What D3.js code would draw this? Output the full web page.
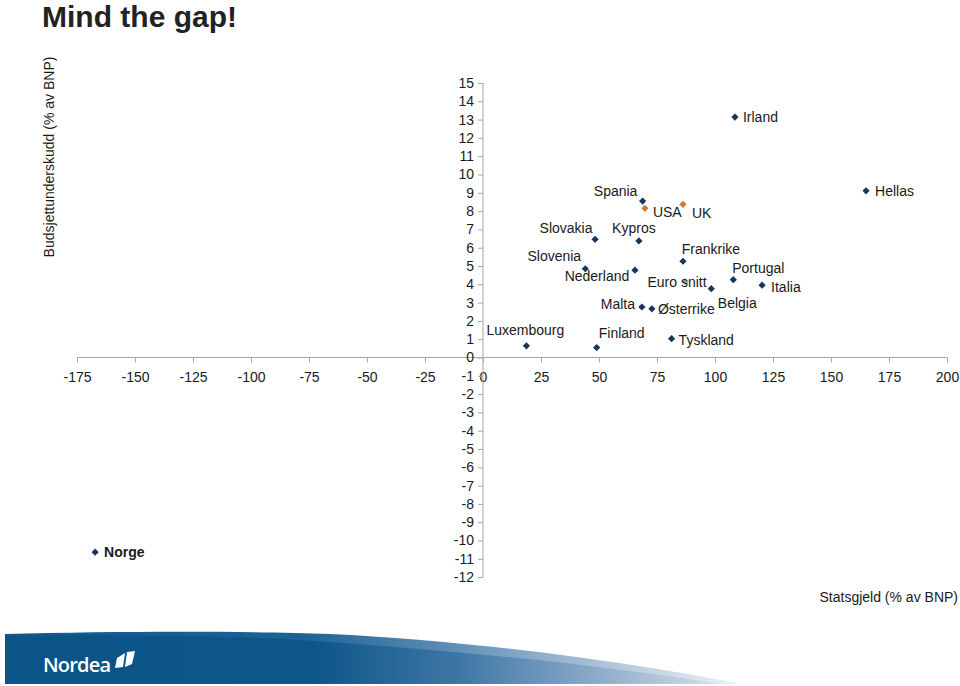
<!DOCTYPE html>
<html>
<head>
<meta charset="utf-8">
<script src="https://cdn.jsdelivr.net/npm/d3@7/dist/d3.min.js"></script>
<style>
  html, body { margin: 0; padding: 0; background: #fff; }
  svg { display: block; font-family: "Liberation Sans", Arial, Helvetica, sans-serif; }
</style>
</head>
<body>
<svg id="chart" width="960" height="686"></svg>
<script>
// ---- data ----
const countries = ["Spania","USA","UK","Slovakia","Kypros","Frankrike","Slovenia","Nederland","Euro snitt","Belgia","Portugal","Italia","Malta","Østerrike","Luxembourg","Finland","Tyskland","Irland","Hellas","Norge"];
const debt      = [68.8, 69.8, 86.2, 48.3, 67.2, 86.2, 44.1, 65.5, 87.1, 98.4, 107.9, 120.3, 68.5, 72.8, 18.7, 49.0, 81.3, 108.6, 165.1, -167.2];
const deficit   = [8.55, 8.15, 8.37, 6.46, 6.37, 5.26, 4.85, 4.77, 4.14, 3.76, 4.25, 3.95, 2.76, 2.66, 0.64, 0.54, 1.03, 13.14, 9.11, -10.64];
const group     = ["euro","other","other","euro","euro","euro","euro","euro","avg","euro","euro","euro","euro","euro","euro","euro","euro","euro","euro","euro"];
const xTicks = [-175,-150,-125,-100,-75,-50,-25,0,25,50,75,100,125,150,175,200];
const yTicks = d3.range(-12, 16);
const title = "Mind the gap!";
const yTitle = "Budsjettunderskudd (% av BNP)";
const xTitle = "Statsgjeld (% av BNP)";

// ---- label layout (offsets from marker, anchor) ----
const labelLayout = {
  "Spania":[-27,-10,"middle"], "USA":[8,3.5,"start"], "UK":[9,9,"start"],
  "Slovakia":[-29,-11,"middle"], "Kypros":[-5,-13,"middle"], "Frankrike":[28,-12.5,"middle"],
  "Slovenia":[-31,-12.5,"middle"], "Nederland":[-38,5.5,"middle"], "Euro snitt":[-8,0.6,"middle"],
  "Belgia":[26,14,"middle"], "Portugal":[25,-12,"middle"], "Italia":[9,1.5,"start"],
  "Malta":[-24,-3,"middle"], "Østerrike":[6,0,"start"], "Luxembourg":[-1,-16,"middle"],
  "Finland":[25,-15,"middle"], "Tyskland":[7,1,"start"], "Irland":[8,0,"start"],
  "Hellas":[9,0,"start"], "Norge":[9,0,"start"]
};
const colors = { euro: "#17365d", other: "#cf7a2c", avg: "#93a9c6" };

const svg = d3.select("#chart");
const x = d3.scaleLinear().domain([0, 200]).range([483, 947]);
const y = d3.scaleLinear().domain([0, 15]).range([357.5, 83]);
const axisColor = "#a6a6a6";
const textColor = "#1a1a1a";
const fmt = d => String(d);

// title
svg.append("text").attr("x", 42).attr("y", 27).attr("font-size", 30).attr("font-weight", "bold")
  .attr("fill", "#222").text(title);

// y axis title
svg.append("text").attr("transform", "translate(54,157) rotate(-90)").attr("text-anchor", "middle")
  .attr("font-size", 14).attr("fill", textColor).text(yTitle);

// x axis title
svg.append("text").attr("x", 958).attr("y", 602).attr("text-anchor", "end")
  .attr("font-size", 14).attr("fill", textColor).text(xTitle);

// x axis (through zero)
const xAxis = d3.axisBottom(x).tickValues(xTicks).tickSize(5).tickFormat(fmt);
const gx = svg.append("g").attr("transform", `translate(0,${y(0)})`).call(xAxis);
gx.select(".domain").attr("stroke", axisColor).attr("d", `M${x(-175)},0H${x(200)}`);
gx.selectAll(".tick line").attr("stroke", axisColor);
gx.selectAll(".tick text").attr("font-size", 14).attr("fill", textColor)
  .attr("font-family", "Liberation Sans, Arial, sans-serif").attr("y", 20).attr("dy", "0.35em");

// y axis (through zero)
const yAxis = d3.axisLeft(y).tickValues(yTicks).tickSize(5).tickFormat(fmt);
const gy = svg.append("g").attr("transform", `translate(${x(0)},0)`).call(yAxis);
gy.select(".domain").attr("stroke", axisColor).attr("d", `M0,${y(15)}V${y(-12)}`);
gy.selectAll(".tick line").attr("stroke", axisColor);
gy.selectAll(".tick text").attr("font-size", 14).attr("fill", textColor)
  .attr("font-family", "Liberation Sans, Arial, sans-serif").attr("x", -9);

// points
const pts = countries.map((c, i) => ({ name: c, debt: debt[i], def: deficit[i], group: group[i] }));
const diamond = d3.symbol(d3.symbolSquare, 26);
const gp = svg.append("g");
pts.forEach(p => {
  gp.append("path").attr("d", diamond())
    .attr("transform", `translate(${x(p.debt)},${y(p.def)}) rotate(45)`)
    .attr("fill", colors[p.group]);
});
pts.forEach(p => {
  const L = labelLayout[p.name];
  gp.append("text").attr("x", x(p.debt) + L[0]).attr("y", y(p.def) + L[1]).attr("dy", "0.35em")
    .attr("text-anchor", L[2]).attr("font-size", 14).attr("fill", textColor)
    .attr("font-weight", p.name === "Norge" ? "bold" : "normal").text(p.name);
});

// ---- footer banner ----
const defs = svg.append("defs");
const g1 = defs.append("linearGradient").attr("id", "bannerGrad").attr("gradientUnits", "userSpaceOnUse")
  .attr("x1", 5).attr("x2", 740).attr("y1", 0).attr("y2", 0);
[[0, "#0b5488"], [0.42, "#0d5689"], [0.62, "#3f77a6"], [0.8, "#8aa9c8"], [1, "#e2e9f1"]]
  .forEach(s => g1.append("stop").attr("offset", s[0]).attr("stop-color", s[1]));
const g2 = defs.append("linearGradient").attr("id", "sweepGrad").attr("gradientUnits", "userSpaceOnUse")
  .attr("x1", 5).attr("x2", 740).attr("y1", 0).attr("y2", 0);
[[0, "#0f5a8c"], [0.4, "#1b6395"], [0.6, "#5c8cb6"], [0.8, "#a8c0d7"], [1, "#eef2f7"]]
  .forEach(s => g2.append("stop").attr("offset", s[0]).attr("stop-color", s[1]));

svg.append("path").attr("fill", "url(#sweepGrad)")
  .attr("d", "M5,634 C120,631 250,631 330,634 C460,640 620,660 740,684 L5,684 Z");
svg.append("path").attr("fill", "url(#bannerGrad)")
  .attr("d", "M5,636 C120,634 250,636 330,642 C460,651 600,665 720,684 L5,684 Z");

// logo
svg.append("text").attr("x", 43).attr("y", 672).attr("font-size", 20).attr("fill", "#fff")
  .attr("font-family", "'Open Sans', 'Liberation Sans', sans-serif").attr("font-weight", 600)
  .attr("letter-spacing", -0.8).text("Nordea");
svg.append("path").attr("fill", "#fff").attr("d", "M117,658 L125,653 L123,667 L115,668 Z");
svg.append("path").attr("fill", "#fff").attr("d", "M127,652 L135,651 L132,664 L125,667 Z");
</script>
</body>
</html>
